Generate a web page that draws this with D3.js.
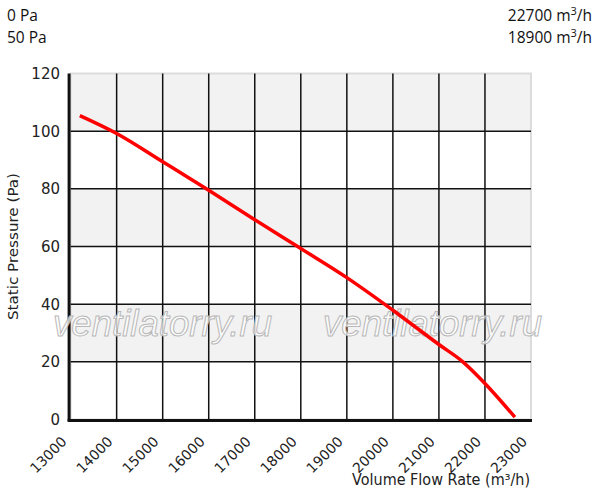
<!DOCTYPE html>
<html><head><meta charset="utf-8">
<script src="https://cdn.jsdelivr.net/npm/d3@7"></script>
<style>
html,body{margin:0;padding:0;background:#fff;}
svg{display:block;}
</style></head>
<body>
<script>
const flow = [13200, 14000, 15000, 16000, 17000, 18000, 19000, 20000, 21000, 21520, 22000, 22650];
const pressure = [105.4, 99.2, 89.4, 79.5, 69.3, 59.3, 49.2, 37.9, 26.0, 20.0, 12.5, 0.8];
const xTicks = [13000, 14000, 15000, 16000, 17000, 18000, 19000, 20000, 21000, 22000, 23000];
const yTicks = [0, 20, 40, 60, 80, 100, 120];
const headerLeft = ["0 Pa", "50 Pa"];
const headerRight = ["22700", "18900"];
const watermark = "ventilatorry.ru";

const W = 597, H = 492;
const svg = d3.select("body").append("svg").attr("width", W).attr("height", H);

const x = d3.scaleLinear().domain([13000, 23000]).range([70.6, 531]);
const y = d3.scaleLinear().domain([0, 120]).range([419.5, 73.5]);

const x0 = x(13000), x1 = x(23000), yTop = y(120), yBot = y(0);

// alternating bands
const bands = d3.range(0, 120, 20);
svg.append("g").selectAll("rect").data(bands).join("rect")
  .attr("x", x0).attr("width", x1 - x0)
  .attr("y", d => y(d + 20)).attr("height", d => y(d) - y(d + 20))
  .attr("fill", d => (d / 20) % 2 === 0 ? "#ffffff" : "#f2f2f2");

// border (light gray)
svg.append("rect").attr("x", x0).attr("y", yTop).attr("width", x1 - x0).attr("height", yBot - yTop)
  .attr("fill", "none").attr("stroke", "#dcdcdc").attr("stroke-width", 2);

// grid lines
const grid = svg.append("g").attr("stroke", "#111").attr("stroke-width", 1.5);
grid.selectAll("line.v").data(xTicks.filter(d => d > 13000 && d < 23000)).join("line")
  .attr("class", "v").attr("x1", d => x(d)).attr("x2", d => x(d)).attr("y1", yTop).attr("y2", yBot);
grid.selectAll("line.h").data(yTicks.filter(d => d > 0 && d < 120)).join("line")
  .attr("class", "h").attr("y1", d => y(d)).attr("y2", d => y(d)).attr("x1", x0).attr("x2", x1);

// axes lines (thick)
svg.append("line").attr("x1", x0 - 1.5).attr("x2", x0 - 1.5).attr("y1", yTop).attr("y2", yBot + 1.5)
  .attr("stroke", "#111").attr("stroke-width", 3);
svg.append("line").attr("x1", x0 - 3).attr("x2", x1 + 1).attr("y1", yBot + 1).attr("y2", yBot + 1)
  .attr("stroke", "#111").attr("stroke-width", 3);

// watermark
const wm = svg.append("g").attr("font-family", "'Liberation Sans', Arial, sans-serif")
  .attr("font-style", "italic").attr("font-size", 36)
  .attr("fill", "#ffffff").attr("fill-opacity", 0.75).attr("stroke", "#b8b8b8").attr("stroke-width", 1);
[[53, 336], [323, 336]].forEach(p => {
  wm.append("text").attr("x", p[0]).attr("y", p[1]).attr("textLength", 219)
    .attr("lengthAdjust", "spacingAndGlyphs").text(watermark);
});

// curve
const line = d3.line().x((d, i) => x(flow[i])).y((d, i) => y(pressure[i])).curve(d3.curveMonotoneX);
svg.append("path").datum(pressure).attr("d", line)
  .attr("fill", "none").attr("stroke", "#ff0000").attr("stroke-width", 3.5).attr("stroke-linecap", "butt");

// y tick labels
svg.append("g").attr("font-family", "'DejaVu Sans', sans-serif").attr("font-size", 15).attr("fill", "#222")
  .selectAll("text").data(yTicks).join("text")
  .attr("x", 60).attr("y", d => y(d)).attr("dy", "0.36em").attr("text-anchor", "end").text(d => d);

// x tick labels
svg.append("g").attr("font-family", "'DejaVu Sans', sans-serif").attr("font-size", 14).attr("fill", "#222")
  .selectAll("text").data(xTicks).join("text")
  .attr("text-anchor", "end")
  .attr("transform", d => `translate(${x(d) - 3},${yBot + 23}) rotate(-45)`).text(d => d);

// axis titles
svg.append("text").attr("font-family", "'DejaVu Sans', sans-serif").attr("font-size", 15).attr("fill", "#222")
  .attr("x", 530).attr("y", 485).attr("text-anchor", "end")
  .attr("textLength", 178).attr("lengthAdjust", "spacingAndGlyphs").text("Volume Flow Rate (m³/h)");
svg.append("text").attr("font-family", "'DejaVu Sans', sans-serif").attr("font-size", 14).attr("fill", "#222")
  .attr("text-anchor", "middle").attr("transform", "translate(18,246.5) rotate(-90)")
  .attr("textLength", 147).attr("lengthAdjust", "spacingAndGlyphs").text("Static Pressure (Pa)");

// header
const hdr = svg.append("g").attr("font-family", "'Open Sans', 'Noto Sans', sans-serif").attr("font-size", 15.5).attr("fill", "#111");
headerLeft.forEach((t, i) => {
  hdr.append("text").attr("x", 7).attr("y", 20.7 + i * 22.6).text(t);
});
headerRight.forEach((t, i) => {
  const tx = hdr.append("text").attr("x", 592).attr("y", 20.7 + i * 22.6).attr("text-anchor", "end");
  tx.append("tspan").text(t + " m");
  tx.append("tspan").attr("font-size", 11).attr("dy", -6).text("3");
  tx.append("tspan").attr("dy", 6).text("/h");
});
</script>
</body></html>
